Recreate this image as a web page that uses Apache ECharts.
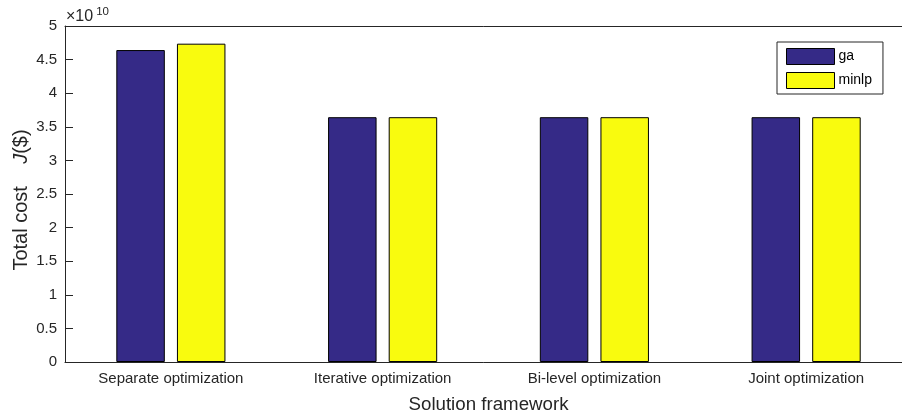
<!DOCTYPE html>
<html>
<head>
<meta charset="utf-8">
<script src="https://cdn.jsdelivr.net/npm/echarts@6/dist/echarts.min.js"></script>
<style>
html,body{margin:0;padding:0;background:#fff;}
#chart{width:902px;height:417px;}
</style>
</head>
<body>
<div id="chart"></div>
<script>
// Data (values in units of 1e10 $)
const categories = ['Separate optimization', 'Iterative optimization', 'Bi-level optimization', 'Joint optimization'];
const gaValues = [4.642, 3.643, 3.643, 3.643];
const minlpValues = [4.737, 3.643, 3.643, 3.643];
const seriesNames = ['ga', 'minlp'];
const yTicks = [0, 0.5, 1, 1.5, 2, 2.5, 3, 3.5, 4, 4.5, 5];

const FONT = 'Liberation Sans, Arial, Helvetica, sans-serif';
const AX = '#262626';
const chart = echarts.init(document.getElementById('chart'), null, {renderer: 'canvas'});

chart.setOption({
  animation: false,
  backgroundColor: '#fff',
  textStyle: {fontFamily: FONT},
  grid: {left: 65, right: -10, top: 26, bottom: 55, containLabel: false, outerBoundsMode: 'none'},
  legend: {
    orient: 'vertical',
    left: 777, top: 42,
    data: seriesNames,
    itemWidth: 48, itemHeight: 16, itemGap: 7,
    padding: [6, 11, 5, 9],
    borderColor: AX, borderWidth: 1,
    icon: 'rect',
    itemStyle: {borderWidth: 1, borderColor: '#000'},
    textStyle: {fontFamily: FONT, fontSize: 14, color: '#000', padding: [0, 0, 0, -1]}
  },
  xAxis: [{
    type: 'category',
    data: categories,
    position: 'bottom',
    name: 'Solution framework',
    nameLocation: 'middle',
    nameGap: 33,
    nameTextStyle: {fontFamily: FONT, fontSize: 18.7, color: AX},
    axisLine: {lineStyle: {color: AX, width: 1}},
    axisTick: {inside: true, length: 8, alignWithLabel: true, lineStyle: {color: AX}},
    axisLabel: {fontFamily: FONT, fontSize: 15, color: AX, margin: 9},
    splitLine: {show: false}
  }, {
    type: 'category',
    data: categories,
    position: 'top',
    axisLine: {lineStyle: {color: AX, width: 1}},
    axisTick: {inside: true, length: 8, alignWithLabel: true, lineStyle: {color: AX}},
    axisLabel: {show: false},
    splitLine: {show: false}
  }],
  yAxis: {
    type: 'value',
    min: yTicks[0], max: yTicks[yTicks.length - 1], interval: 0.5,
    axisLine: {show: true, lineStyle: {color: AX, width: 1}},
    axisTick: {show: true, inside: true, length: 8, lineStyle: {color: AX}},
    axisLabel: {fontFamily: FONT, fontSize: 15, color: AX, margin: 8},
    splitLine: {show: false}
  },
  series: [{
    name: seriesNames[0],
    type: 'bar',
    data: gaValues,
    barWidth: 48.5,
    barGap: '25%',
    itemStyle: {color: '#352a87', borderColor: '#000', borderWidth: 1}
  }, {
    name: seriesNames[1],
    type: 'bar',
    data: minlpValues,
    barWidth: 48.5,
    barGap: '25%',
    itemStyle: {color: '#f9fb0e', borderColor: '#000', borderWidth: 1}
  }],
  graphic: [{
    type: 'text',
    left: 66, top: 6,
    style: {
      text: '{a|×10}{s|10}',
      rich: {
        a: {fontFamily: FONT, fontSize: 16, fill: AX},
        s: {fontFamily: FONT, fontSize: 11.5, fill: AX, padding: [0, 0, 10, 3]}
      }
    }
  }, {
    type: 'text',
    x: 21, y: 200,
    rotation: Math.PI / 2,
    style: {
      text: '{a|Total cost    }{i|J}{a|($)}',
      align: 'center', verticalAlign: 'middle',
      rich: {
        a: {fontFamily: FONT, fontSize: 20, fill: AX},
        i: {fontFamily: FONT, fontSize: 20, fontStyle: 'italic', fill: AX}
      }
    }
  }]
});
</script>
</body>
</html>
